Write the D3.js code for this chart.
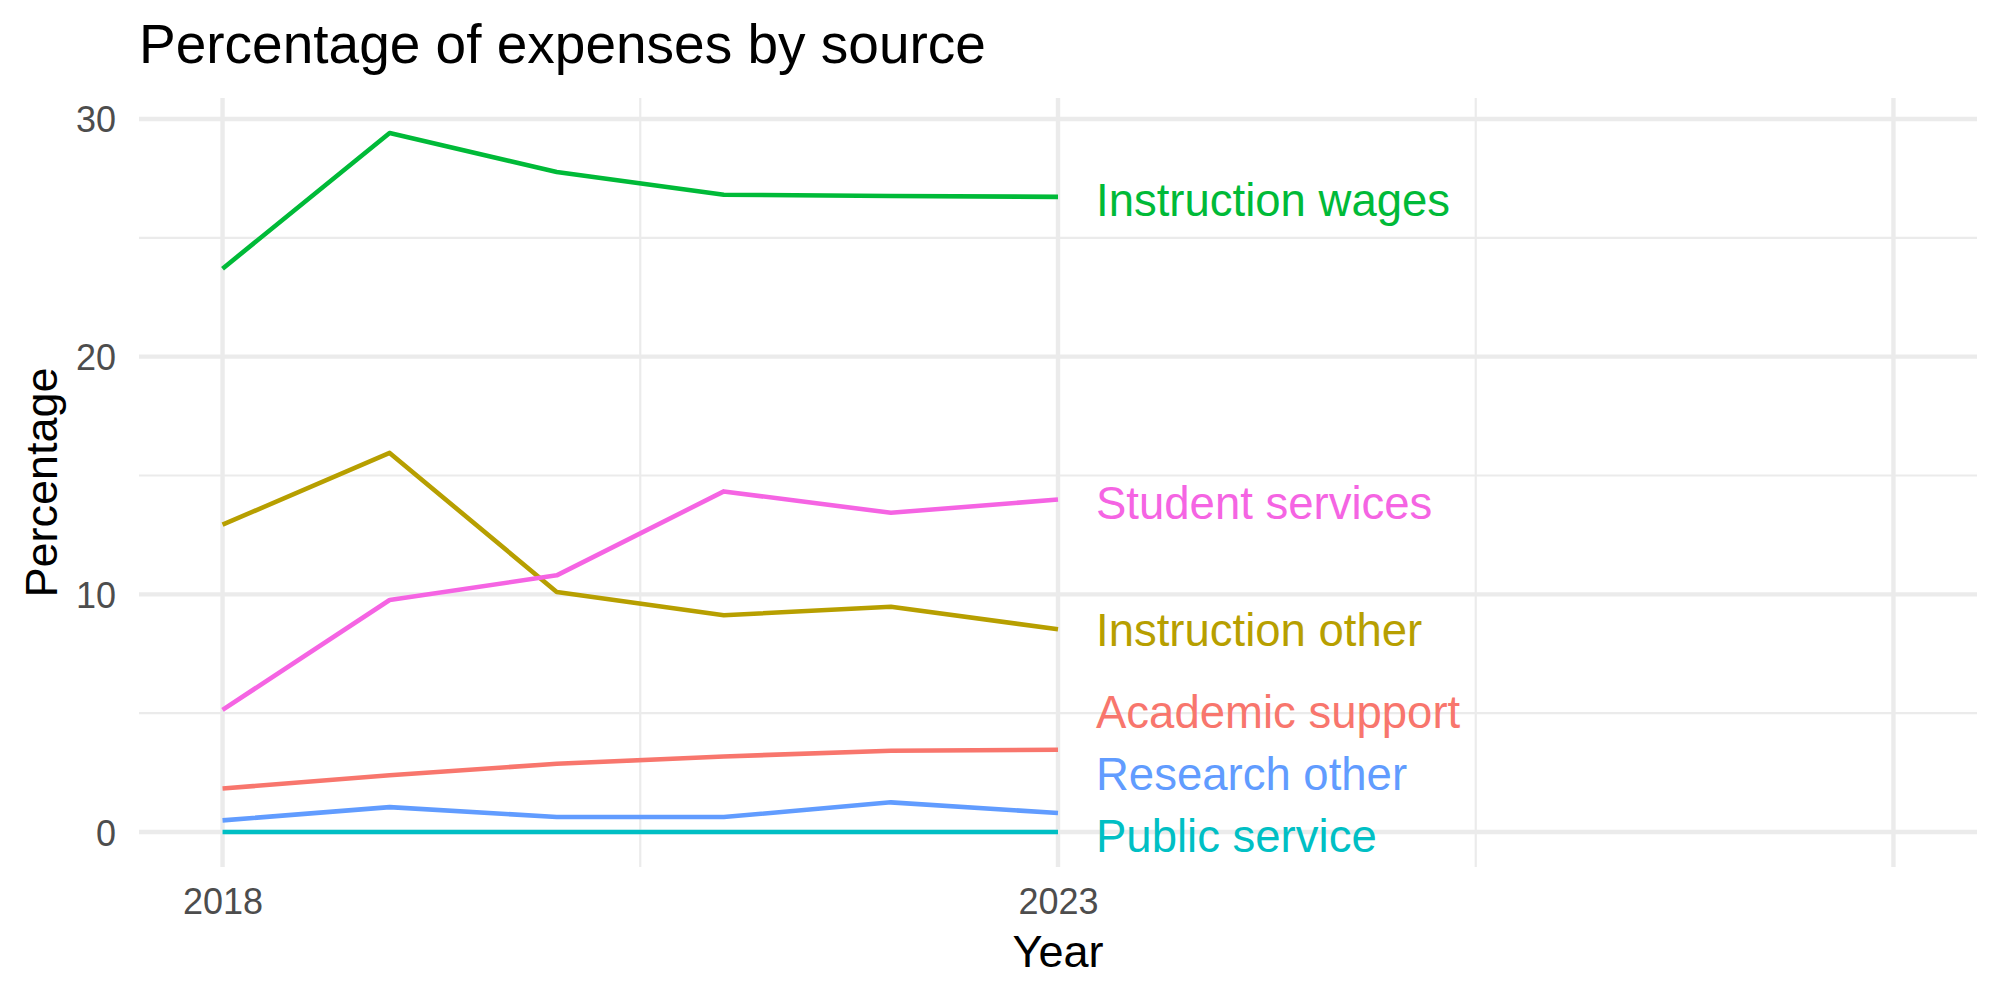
<!DOCTYPE html>
<html>
<head>
<meta charset="utf-8">
<script src="https://cdn.jsdelivr.net/npm/d3@7"></script>
<style>
  body { margin: 0; background: #fff; }
  svg text { font-family: "Liberation Sans", Arial, Helvetica, sans-serif; }
</style>
</head>
<body>
<div id="chart"></div>
<script>
// data
const years = [2018, 2019, 2020, 2021, 2022, 2023];
const sources = ["Academic support", "Instruction other", "Instruction wages", "Public service", "Research other", "Student services"];
const academicSupport = [1.83, 2.39, 2.87, 3.18, 3.42, 3.46];
const instructionOther = [12.93, 15.95, 10.10, 9.12, 9.48, 8.53];
const instructionWages = [23.70, 29.41, 27.77, 26.81, 26.76, 26.72];
const publicService = [0, 0, 0, 0, 0, 0];
const researchOther = [0.49, 1.05, 0.63, 0.63, 1.25, 0.80];
const studentServices = [5.14, 9.76, 10.80, 14.33, 13.43, 13.99];
// where the repelled end labels sit (in percentage units)
const labelValues = [5.08, 8.50, 26.62, -0.17, 2.46, 13.87];
const yTicks = [0, 10, 20, 30];
const xTickLabels = [2018, 2023];

const seriesValues = [academicSupport, instructionOther, instructionWages, publicService, researchOther, studentServices];
const colors = ["#F8766D", "#B79F00", "#00BA38", "#00BFC4", "#619CFF", "#F564E3"];

const width = 2000;
const height = 1000;
const panel = { left: 139, right: 1977, top: 98, bottom: 867 };

const svg = d3.select("#chart")
    .append("svg")
    .attr("width", width)
    .attr("height", height)
    .attr("viewBox", `0 0 ${width} ${height}`);

// ggplot style 5% expansion
const xScale = d3.scaleLinear()
    .domain([2017.5, 2028.5])
    .range([panel.left, panel.right]);

const yMax = d3.max(seriesValues.flat());
const yPad = yMax * 0.05;
const yScale = d3.scaleLinear()
    .domain([0 - yPad, yMax + yPad])
    .range([panel.bottom, panel.top]);

// grid
const grid = svg.append("g");
[5, 15, 25].forEach(v => {
    grid.append("line")
        .attr("x1", panel.left).attr("x2", panel.right)
        .attr("y1", yScale(v)).attr("y2", yScale(v))
        .attr("stroke", "#EBEBEB").attr("stroke-width", 2.2);
});
[2020.5, 2025.5].forEach(v => {
    grid.append("line")
        .attr("x1", xScale(v)).attr("x2", xScale(v))
        .attr("y1", panel.top).attr("y2", panel.bottom)
        .attr("stroke", "#EBEBEB").attr("stroke-width", 2.2);
});
yTicks.forEach(v => {
    grid.append("line")
        .attr("x1", panel.left).attr("x2", panel.right)
        .attr("y1", yScale(v)).attr("y2", yScale(v))
        .attr("stroke", "#EBEBEB").attr("stroke-width", 4.4);
});
[2018, 2023, 2028].forEach(v => {
    grid.append("line")
        .attr("x1", xScale(v)).attr("x2", xScale(v))
        .attr("y1", panel.top).attr("y2", panel.bottom)
        .attr("stroke", "#EBEBEB").attr("stroke-width", 4.4);
});

// axes (tick labels only, like theme_minimal)
const yAxis = svg.append("g")
    .attr("transform", `translate(${panel.left - 23},0)`)
    .call(d3.axisLeft(yScale).tickValues(yTicks).tickSize(0).tickPadding(0));
yAxis.select(".domain").remove();
yAxis.selectAll("text")
    .attr("fill", "#4D4D4D")
    .style("font-size", "36px")
    .attr("dy", "0.36em");

const xAxis = svg.append("g")
    .attr("transform", `translate(0,${panel.bottom + 21})`)
    .call(d3.axisBottom(xScale).tickValues(xTickLabels).tickFormat(d3.format("d")).tickSize(0).tickPadding(0));
xAxis.select(".domain").remove();
xAxis.selectAll("text")
    .attr("fill", "#4D4D4D")
    .style("font-size", "36px")
    .attr("dy", "0.72em");

// lines
const line = d3.line()
    .x((d, i) => xScale(years[i]))
    .y(d => yScale(d));

svg.append("g")
    .selectAll("path")
    .data(seriesValues)
    .enter()
    .append("path")
    .attr("d", d => line(d))
    .attr("fill", "none")
    .attr("stroke", (d, i) => colors[i])
    .attr("stroke-width", 4.6)
    .attr("stroke-linejoin", "round");

// end labels
svg.append("g")
    .selectAll("text")
    .data(sources)
    .enter()
    .append("text")
    .attr("x", xScale(2023) + 38)
    .attr("y", (d, i) => yScale(labelValues[i]))
    .attr("dy", "0.36em")
    .attr("fill", (d, i) => colors[i])
    .style("font-size", "45.5px")
    .text(d => d);

// titles
svg.append("text")
    .attr("x", panel.left)
    .attr("y", 63)
    .style("font-size", "55px")
    .attr("fill", "#000")
    .text("Percentage of expenses by source");

svg.append("text")
    .attr("x", (panel.left + panel.right) / 2)
    .attr("y", 967)
    .style("text-anchor", "middle")
    .style("font-size", "45px")
    .attr("fill", "#000")
    .text("Year");

svg.append("text")
    .attr("transform", `translate(57,${(panel.top + panel.bottom) / 2}) rotate(-90)`)
    .style("text-anchor", "middle")
    .style("font-size", "45px")
    .attr("fill", "#000")
    .text("Percentage");
</script>
</body>
</html>
